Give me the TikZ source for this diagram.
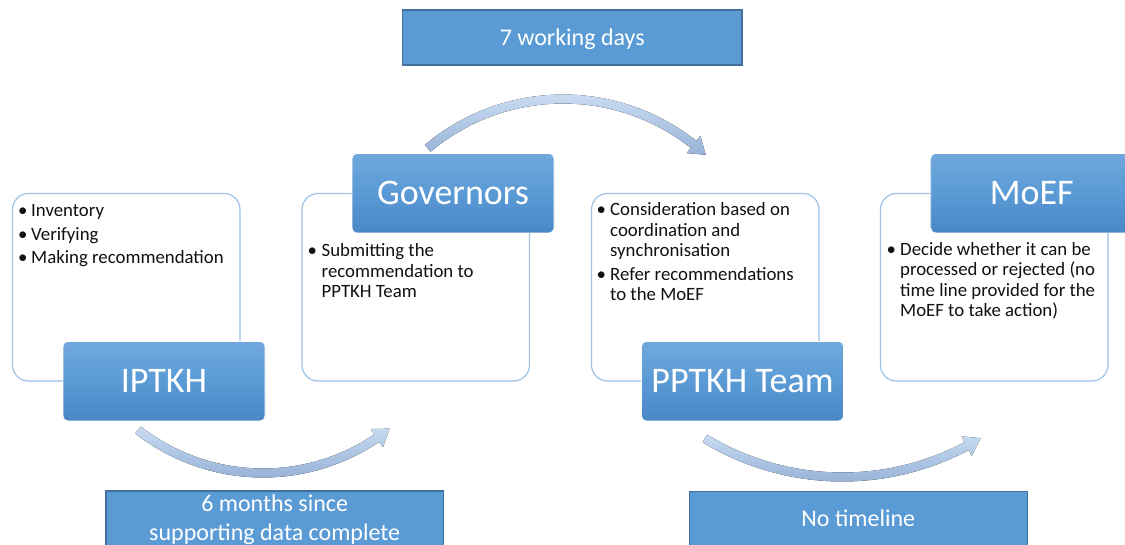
\documentclass[tikz,border=0pt]{standalone}
\usepackage{fontspec}
\setmainfont{Carlito}
\definecolor{flatfill}{HTML}{5B9BD5}
\definecolor{flatedge}{HTML}{41719C}
\definecolor{headtop}{HTML}{70A8DC}
\definecolor{headmid}{HTML}{5A9AD5}
\definecolor{headbot}{HTML}{4A87C6}
\definecolor{frameedge}{HTML}{9DC3E6}
\definecolor{arrowlight}{HTML}{C8DBF1}
\definecolor{arrowdark}{HTML}{98B3D8}
\definecolor{bodytext}{HTML}{111111}

% curved arrow along a circle: centre (#1,#2), radius #3, from angle #4 to tip angle #5
\newcommand{\arcarrow}[5]{%
  \pgfmathsetmacro{\hb}{#5-((#5>#4)?1:-1)*16/#3*180/pi}%
  \fill[top color=arrowlight, bottom color=arrowdark]
    plot[domain=#4:\hb, samples=50, variable=\t] ({#1+(#3+4.5)*cos(\t)}, {#2-(#3+4.5)*sin(\t)})
    -- ({#1+(#3+11)*cos(\hb)}, {#2-(#3+11)*sin(\hb)})
    -- ({#1+#3*cos(#5)}, {#2-#3*sin(#5)})
    -- ({#1+(#3-11)*cos(\hb)}, {#2-(#3-11)*sin(\hb)})
    -- plot[domain=\hb:#4, samples=50, variable=\t] ({#1+(#3-4.5)*cos(\t)}, {#2-(#3-4.5)*sin(\t)})
    -- cycle;
}

\begin{document}
\begin{tikzpicture}[x=1pt,y=-1pt,
  flatbox/.style={rectangle, draw=flatedge, line width=1.4pt, fill=flatfill, inner sep=0pt},
  flattext/.style={anchor=base, text=white, inner sep=0pt, font=\fontsize{24}{28}\selectfont},
  framebox/.style={rectangle, rounded corners=16pt, draw=frameedge, line width=1.2pt, fill=white,
    minimum width=227.5pt, minimum height=187.5pt, inner sep=0pt},
  headbox/.style={rectangle, rounded corners=5pt, draw=white, line width=0.6pt,
    top color=headtop, bottom color=headbot, middle color=headmid,
    minimum width=202pt, minimum height=79.5pt, inner sep=0pt, text=white,
    font=\fontsize{36}{40}\selectfont},
  bodyline/.style={anchor=base west, inner sep=0pt, text=bodytext, font=\fontsize{18.8}{22}\selectfont},
  bulletmark/.style={bodyline}
]
\clip (0,0) rectangle (1125,544);
\fill[white] (0,0) rectangle (1125,544);

% step frames
\node[framebox] (frame1) at (126.25,287.25) {};
\node[framebox] (frame2) at (415.75,287.25) {};
\node[framebox] (frame3) at (705.25,287.25) {};
\node[framebox] (frame4) at (994.25,287.25) {};

% step headers
\node[headbox] (iptkh) at (164,381.2) {IPTKH};
\node[headbox] (gov) at (453,193.2) {Governors};
\node[headbox] (pptkh) at (742.5,381.2) {PPTKH Team};
\node[headbox] (moef) at (1031.7,193.2) {MoEF};

% step 1 items
\node[bulletmark] (b1a) at (18,216) {•};
\node[bodyline] (l1a) at (31,216) {Inventory};
\node[bulletmark] (b1b) at (18,240) {•};
\node[bodyline] (l1b) at (31,240) {Verifying};
\node[bulletmark] (b1c) at (18,263.5) {•};
\node[bodyline] (l1c) at (31,263.5) {Making recommendation};

% step 2 items
\node[bulletmark] (b2a) at (307.5,256.5) {•};
\node[bodyline] (l2a) at (321.5,256.5) {Submitting the};
\node[bodyline] (l2b) at (321.5,277) {recommendation to};
\node[bodyline] (l2c) at (321.5,297) {PPTKH Team};

% step 3 items
\node[bulletmark] (b3a) at (596.5,215.7) {•};
\node[bodyline] (l3a) at (610,215.7) {Consideration based on};
\node[bodyline] (l3b) at (610,236) {coordination and};
\node[bodyline] (l3c) at (610,256) {synchronisation};
\node[bulletmark] (b3b) at (596.5,280) {•};
\node[bodyline] (l3d) at (610,280) {Refer recommendations};
\node[bodyline] (l3e) at (610,300.3) {to the MoEF};

% step 4 items
\node[bulletmark] (b4a) at (886.5,255.5) {•};
\node[bodyline] (l4a) at (900,255.5) {Decide whether it can be};
\node[bodyline] (l4b) at (900,275.7) {processed or rejected (no};
\node[bodyline] (l4c) at (900,296) {time line provided for the};
\node[bodyline] (l4d) at (900,316.3) {MoEF to take action)};

% timing boxes
\node[flatbox, minimum width=339.5pt, minimum height=55pt] (days) at (572.25,37.5) {};
\node[flattext] (dayst) at (572.25,45.7) {7 working days};
\node[flatbox, minimum width=337.5pt, minimum height=70pt] (months) at (274.7,526) {};
\node[flattext] (monthsa) at (274.7,511.7) {6 months since};
\node[flattext] (monthsb) at (274.7,540) {supporting data complete};
\node[flatbox, minimum width=338pt, minimum height=70pt] (notime) at (858.3,526.5) {};
\node[flattext] (notimet) at (858.3,526) {No timeline};

% flow arrows between steps
\arcarrow{563}{309.5}{210.5}{130}{47.3}
\arcarrow{263}{270}{203}{232}{308.6}
\arcarrow{842.5}{212}{265}{238.7}{301.4}
\end{tikzpicture}
\end{document}
